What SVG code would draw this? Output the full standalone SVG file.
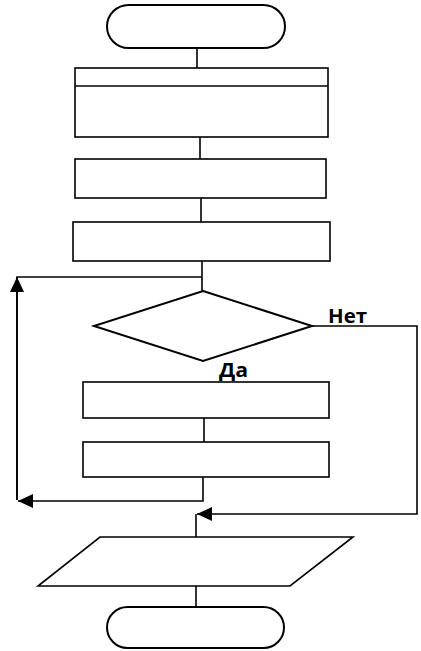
<svg xmlns="http://www.w3.org/2000/svg" width="421" height="651" viewBox="0 0 421 651">
<style>
.s{fill:#fff;stroke:#000;stroke-width:1.6}
.t{fill:#fff;stroke:#000;stroke-width:2}
.c{fill:none;stroke:#000;stroke-width:1.6}
.lbl{font-family:"Open Sans","DejaVu Sans",sans-serif;font-weight:bold;font-size:19px;fill:#000}
</style>
<defs>
<marker id="ah" viewBox="0 0 15 14" refX="15" refY="7" markerWidth="15" markerHeight="14" markerUnits="userSpaceOnUse" orient="auto">
<path d="M0,0 L15,7 L0,14 Z" fill="#000"/>
</marker>
</defs>
<rect width="421" height="651" fill="#fff"/>
<g id="connectors">
<line class="c" x1="197" y1="48" x2="197" y2="68"/>
<line class="c" x1="200" y1="137" x2="200" y2="159"/>
<line class="c" x1="201" y1="198" x2="201" y2="222"/>
<line class="c" x1="202" y1="261" x2="202" y2="291"/>
<path class="c" d="M202,277 H17 V500" />
<path class="c" d="M17,500 V277" marker-end="url(#ah)"/>
<line class="c" x1="204" y1="418" x2="204" y2="442"/>
<path class="c" d="M203,477 V501 H18" marker-end="url(#ah)"/>
<path class="c" d="M312,326 H417 V514 H197" marker-end="url(#ah)"/>
<line class="c" x1="196" y1="514" x2="196" y2="537"/>
<line class="c" x1="196" y1="586" x2="196" y2="607"/>
<text class="lbl" x="328" y="323" textLength="39" lengthAdjust="spacingAndGlyphs">Нет</text>
<text class="lbl" x="219" y="377" textLength="29" lengthAdjust="spacingAndGlyphs">Да</text>
</g>
<g id="start"><rect class="t" x="107" y="5" width="178" height="43" rx="21.5"/></g>
<g id="block1"><rect class="s" x="75" y="68" width="253" height="69"/><line class="s" x1="75" y1="86" x2="328" y2="86"/></g>
<g id="block2"><rect class="s" x="75" y="159" width="251" height="39"/></g>
<g id="block3"><rect class="s" x="73" y="222" width="257" height="39"/></g>
<g id="decision"><polygon class="t" points="203,291 312,326 203,361 94,326"/></g>
<g id="block4"><rect class="s" x="83" y="382" width="246" height="36"/></g>
<g id="block5"><rect class="s" x="83" y="442" width="246" height="35"/></g>
<g id="io"><polygon class="s" points="100,537 353,537 290,586 38,586"/></g>
<g id="end"><rect class="t" x="107" y="607" width="177" height="41" rx="20.5"/></g>
</svg>
